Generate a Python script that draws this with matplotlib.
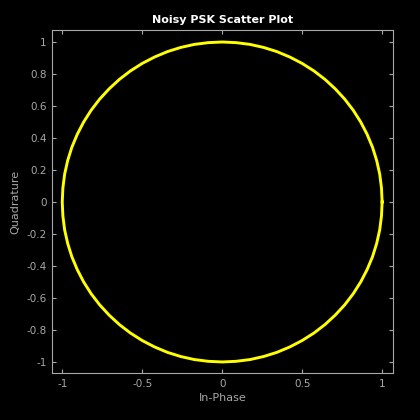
import matplotlib
matplotlib.use("Agg")
import matplotlib.pyplot as plt

# received symbols (in-phase / quadrature)
i_vals = [1.000, 0.996, 0.985, 0.966, 0.940, 0.906, 0.866, 0.819, 0.766, 0.707,
          0.643, 0.574, 0.500, 0.423, 0.342, 0.259, 0.174, 0.087, 0.000,
          -0.087, -0.174, -0.259, -0.342, -0.423, -0.500, -0.574, -0.643, -0.707,
          -0.766, -0.819, -0.866, -0.906, -0.940, -0.966, -0.985, -0.996, -1.000,
          -0.996, -0.985, -0.966, -0.940, -0.906, -0.866, -0.819, -0.766, -0.707,
          -0.643, -0.574, -0.500, -0.423, -0.342, -0.259, -0.174, -0.087, 0.000,
          0.087, 0.174, 0.259, 0.342, 0.423, 0.500, 0.574, 0.643, 0.707,
          0.766, 0.819, 0.866, 0.906, 0.940, 0.966, 0.985, 0.996, 1.000]
q_vals = [0.000, 0.087, 0.174, 0.259, 0.342, 0.423, 0.500, 0.574, 0.643, 0.707,
          0.766, 0.819, 0.866, 0.906, 0.940, 0.966, 0.985, 0.996, 1.000,
          0.996, 0.985, 0.966, 0.940, 0.906, 0.866, 0.819, 0.766, 0.707,
          0.643, 0.574, 0.500, 0.423, 0.342, 0.259, 0.174, 0.087, 0.000,
          -0.087, -0.174, -0.259, -0.342, -0.423, -0.500, -0.574, -0.643, -0.707,
          -0.766, -0.819, -0.866, -0.906, -0.940, -0.966, -0.985, -0.996, -1.000,
          -0.996, -0.985, -0.966, -0.940, -0.906, -0.866, -0.819, -0.766, -0.707,
          -0.643, -0.574, -0.500, -0.423, -0.342, -0.259, -0.174, -0.087, 0.000]
yticks = [-1, -0.8, -0.6, -0.4, -0.2, 0, 0.2, 0.4, 0.6, 0.8, 1]
ytick_labels = ["-1", "-0.8", "-0.6", "-0.4", "-0.2", "0", "0.2", "0.4", "0.6", "0.8", "1"]
xticks = [-1, -0.5, 0, 0.5, 1]
xtick_labels = ["-1", "-0.5", "0", "0.5", "1"]

grey = "#a8a8a8"

fig = plt.figure(figsize=(4.2, 4.2), dpi=100, facecolor="black")
ax = fig.add_axes([52 / 420, 47 / 420, 341 / 420, 343 / 420], facecolor="black")

ax.plot(i_vals, q_vals, color="#ffff00", linewidth=2.1, solid_joinstyle="round")

ax.set_xlim(-1.064, 1.068)
ax.set_ylim(-1.069, 1.075)
ax.set_xticks(xticks)
ax.set_xticklabels(xtick_labels)
ax.set_yticks(yticks)
ax.set_yticklabels(ytick_labels)

ax.tick_params(direction="in", length=3, width=0.8, colors=grey, labelsize=7.5,
               top=True, right=True, pad=4)
for s in ax.spines.values():
    s.set_color(grey)
    s.set_linewidth(0.8)

ax.set_xlabel("In-Phase", color=grey, fontsize=8, labelpad=3)
ax.set_ylabel("Quadrature", color=grey, fontsize=8, labelpad=4)
ax.set_title("Noisy PSK Scatter Plot", color="white", fontsize=8, fontweight="bold", pad=5)

fig.savefig("out.png", dpi=100, facecolor="black")
